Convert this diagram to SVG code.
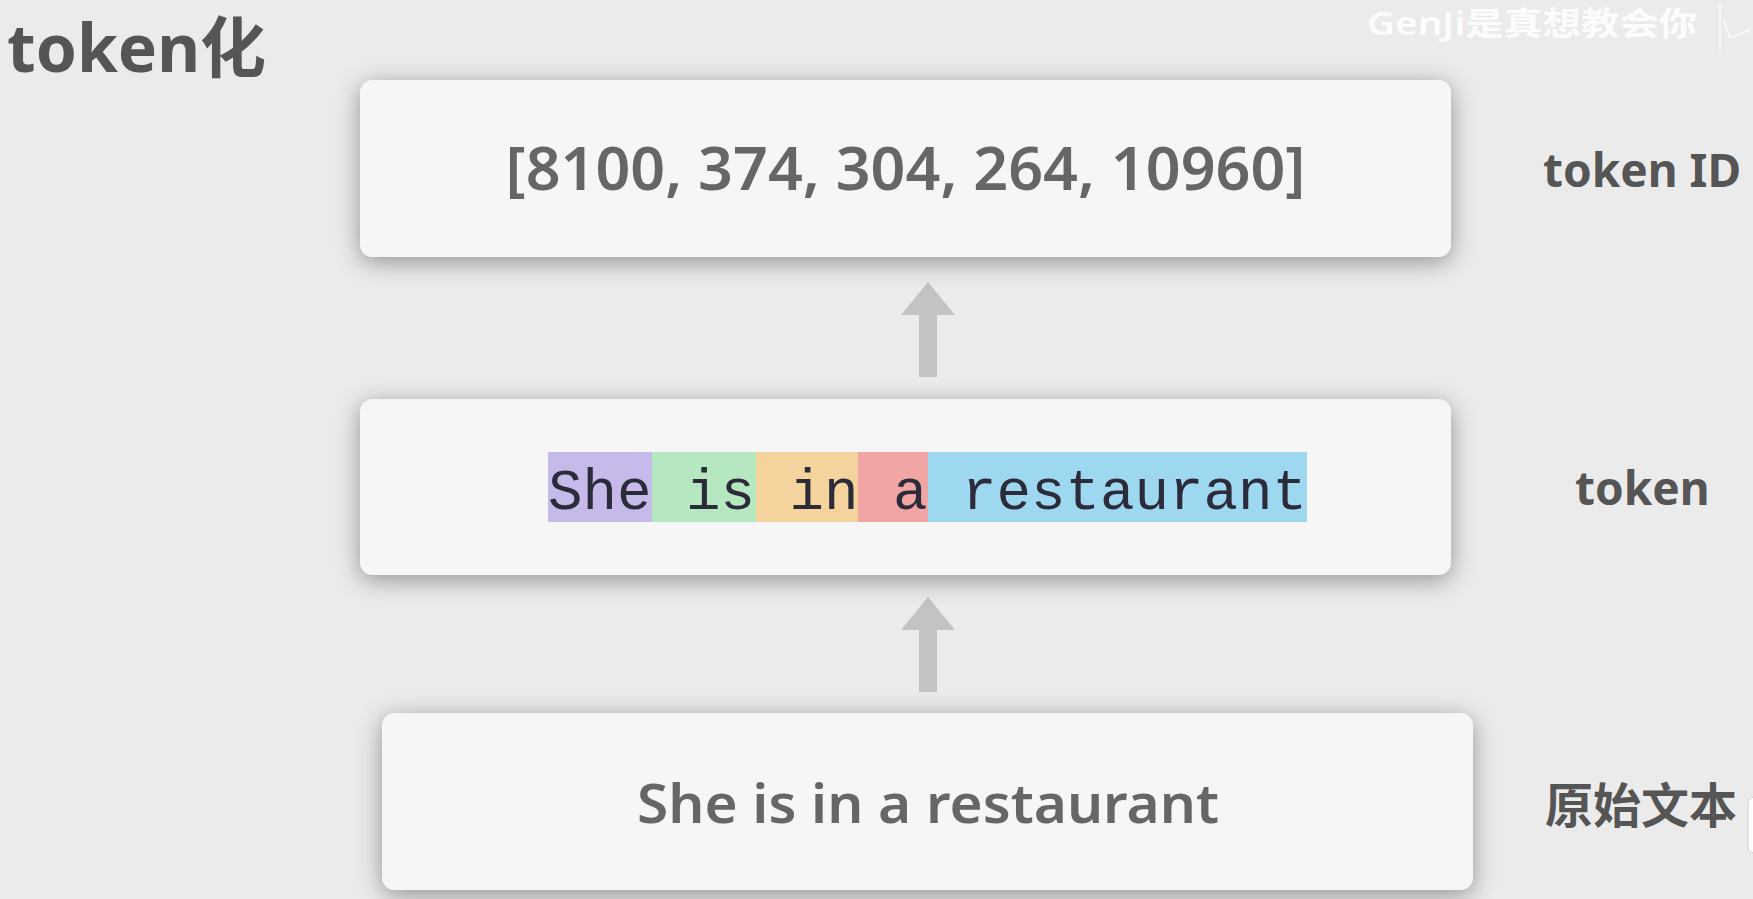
<svg xmlns="http://www.w3.org/2000/svg" width="1753" height="899" viewBox="0 0 1753 899">
  <style>
    .box { fill: #f6f6f6; }
    .label { font-family: "Noto Sans", "Noto Sans CJK SC", sans-serif; font-weight: bold; fill: #555555; }
    .arrow { fill: #c3c3c3; }
  </style>
  <defs>
    <filter id="shadow" x="-10%" y="-30%" width="120%" height="160%">
      <feGaussianBlur in="SourceAlpha" stdDeviation="12"/>
      <feOffset dx="0" dy="5" result="b"/>
      <feFlood flood-color="#000" flood-opacity="0.38"/>
      <feComposite in2="b" operator="in"/>
      <feMerge><feMergeNode/><feMergeNode in="SourceGraphic"/></feMerge>
    </filter>
  </defs>
  <rect x="0" y="0" width="1753" height="899" fill="#ebebeb"/>

  <text id="title" x="7" y="72" class="label" font-size="66">token化</text>

  <g id="watermark">
    <text x="1367" y="35" font-family="Noto Sans, Noto Sans CJK SC, sans-serif" font-weight="600" font-size="32" fill="#ffffff" fill-opacity="0.9" textLength="330" lengthAdjust="spacingAndGlyphs">GenJi是真想教会你</text>
    <path d="M1720 4 V 50 M1724 20 L1730 38 L1750 30" fill="none" stroke="#ffffff" stroke-width="1.5" stroke-opacity="0.8"/>
  </g>

  <g id="connectors">
    <polygon class="arrow" points="928,282 955,315 937,315 937,377 919,377 919,315 901,315"/>
    <polygon class="arrow" points="928,597 955,630 937,630 937,692 919,692 919,630 901,630"/>
  </g>

  <g id="node-token-id">
    <rect class="box" x="360" y="80" width="1091" height="177" rx="13" filter="url(#shadow)"/>
    <text x="905.5" y="190" text-anchor="middle" font-family="Noto Sans, sans-serif" font-weight="600" font-size="60" fill="#666666" textLength="800" lengthAdjust="spacingAndGlyphs">[8100, 374, 304, 264, 10960]</text>
  </g>

  <g id="node-token">
    <rect class="box" x="360" y="399" width="1091" height="176" rx="13" filter="url(#shadow)"/>
    <rect x="548" y="452" width="104" height="70" fill="#c5baea"/>
    <rect x="652" y="452" width="104" height="70" fill="#b5e7c1"/>
    <rect x="756" y="452" width="102" height="70" fill="#f4d39d"/>
    <rect x="858" y="452" width="70" height="70" fill="#f2a5a5"/>
    <rect x="928" y="452" width="379" height="70" fill="#9ed7f0"/>
    <text x="548" y="509" font-family="Liberation Mono, DejaVu Sans Mono, monospace" font-size="57.5" fill="#2b2b3a" textLength="759" lengthAdjust="spacingAndGlyphs" xml:space="preserve">She is in a restaurant</text>
  </g>

  <g id="node-raw-text">
    <rect class="box" x="382" y="713" width="1091" height="177" rx="13" filter="url(#shadow)"/>
    <text x="637" y="823" font-family="Noto Sans, sans-serif" font-weight="600" font-size="55" fill="#666666" textLength="582" lengthAdjust="spacingAndGlyphs">She is in a restaurant</text>
  </g>

  <g id="labels">
    <text x="1543" y="187" class="label" font-size="46">token ID</text>
    <text x="1575" y="505" class="label" font-size="46">token</text>
    <text x="1545" y="823" class="label" font-size="48">原始文本</text>
  </g>

  <rect x="1748" y="797" width="20" height="56" rx="6" fill="#ffffff" stroke="#cccccc" stroke-width="1"/>
</svg>
